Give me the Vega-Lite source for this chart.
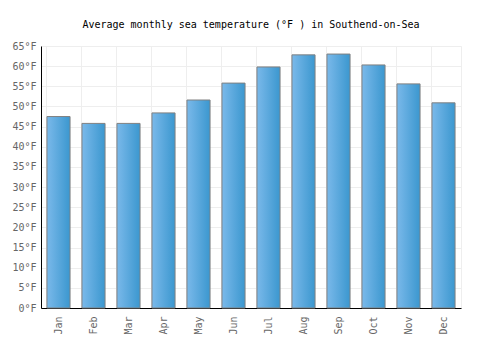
{
  "$schema": "https://vega.github.io/schema/vega-lite/v6.json",
  "width": 420,
  "height": 262,
  "autosize": {"type": "none"},
  "padding": {"left": 41, "top": 46, "right": 39, "bottom": 42},
  "background": "white",
  "title": {"text": "Average monthly sea temperature (°F ) in Southend-on-Sea", "font": "DejaVu Sans Mono", "fontSize": 10, "fontWeight": "normal", "color": "#000", "offset": 11},
  "data": {"values": [
    {"month": "Jan", "temp": 47.5},
    {"month": "Feb", "temp": 45.8},
    {"month": "Mar", "temp": 45.8},
    {"month": "Apr", "temp": 48.4},
    {"month": "May", "temp": 51.6},
    {"month": "Jun", "temp": 55.8},
    {"month": "Jul", "temp": 59.8},
    {"month": "Aug", "temp": 62.8},
    {"month": "Sep", "temp": 63.0},
    {"month": "Oct", "temp": 60.3},
    {"month": "Nov", "temp": 55.6},
    {"month": "Dec", "temp": 50.9}
  ]},
  "mark": {"type": "bar", "stroke": "#808080", "strokeWidth": 1,
    "color": {"gradient": "linear", "x1": 0, "x2": 1, "y1": 0, "y2": 0,
      "stops": [{"offset": 0, "color": "#7ab9ea"}, {"offset": 1, "color": "#3b97cf"}]}},
  "encoding": {
    "x": {"field": "month", "type": "nominal", "sort": null, "title": null,
      "scale": {"paddingInner": 0.34, "paddingOuter": 0.17},
      "axis": {"labelAngle": -90, "labelFont": "DejaVu Sans Mono", "labelFontSize": 10, "labelColor": "#666", "ticks": false, "labelPadding": 8,
        "domainColor": "#000", "grid": true, "gridColor": "#eeeeee", "bandPosition": 0}},
    "y": {"field": "temp", "type": "quantitative", "title": null,
      "scale": {"domain": [0, 65], "nice": false},
      "axis": {"values": [0,5,10,15,20,25,30,35,40,45,50,55,60,65], "labelExpr": "datum.value + '°F'", "labelFont": "DejaVu Sans Mono", "labelFontSize": 10, "labelColor": "#666", "ticks": false, "labelPadding": 5,
        "domainColor": "#000", "gridColor": "#eeeeee"}}
  },
  "config": {"view": {"stroke": "#eeeeee"}}
}
